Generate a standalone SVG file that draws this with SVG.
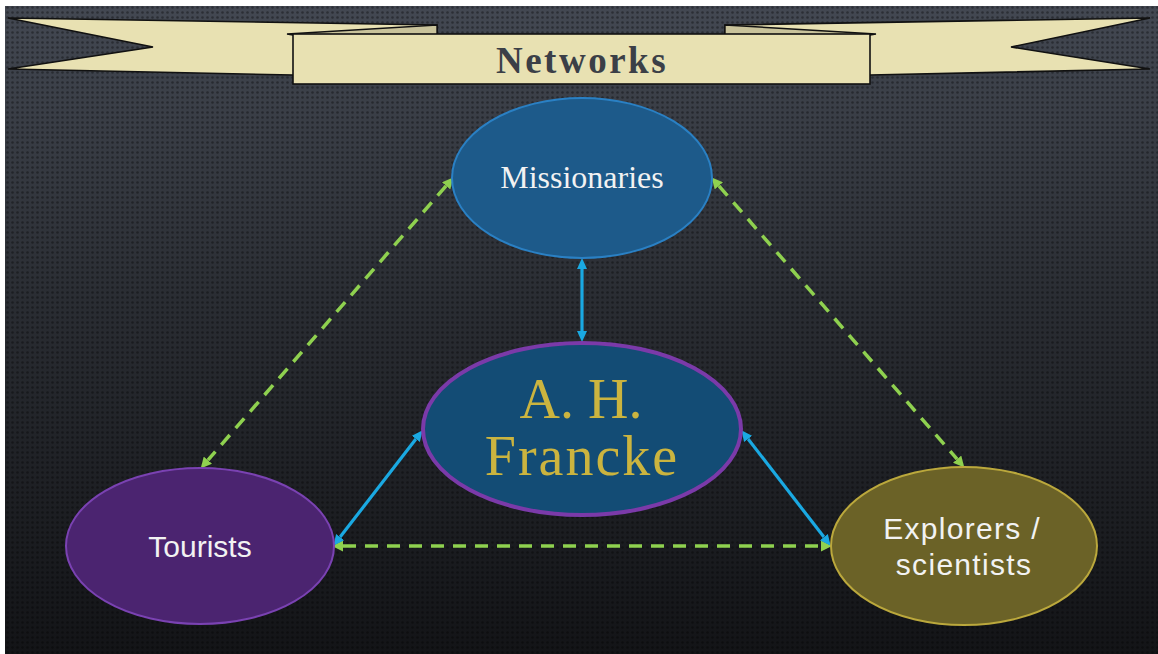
<svg xmlns="http://www.w3.org/2000/svg" width="1158" height="654" viewBox="0 0 1158 654">
  <defs>
    <linearGradient id="bg" x1="0" y1="0" x2="0" y2="1">
      <stop offset="0" stop-color="#434852"/>
      <stop offset="0.45" stop-color="#2a2d33"/>
      <stop offset="1" stop-color="#131417"/>
    </linearGradient>
    <pattern id="dots" width="5" height="5" patternUnits="userSpaceOnUse">
      <circle cx="2.5" cy="2.5" r="1.3" fill="#000" fill-opacity="0.35"/>
    </pattern>
    <marker id="blueHead" viewBox="0 -6 12 12" refX="0" refY="0" markerWidth="12" markerHeight="12" markerUnits="userSpaceOnUse" orient="auto-start-reverse">
      <path d="M0,-5 L11,0 L0,5 z" fill="#1aa9e2"/>
    </marker>
    <marker id="greenHead" viewBox="0 -5 10 10" refX="0" refY="0" markerWidth="11" markerHeight="11" markerUnits="userSpaceOnUse" orient="auto-start-reverse">
      <path d="M0,-5 L10,0 L0,5 z" fill="#8fd14f"/>
    </marker>
    <style>
      .ribbon { fill: #e8e1b2; stroke: #111; stroke-width: 1.6; stroke-linejoin: miter; }
      .fold { fill: #c9c39b; stroke: #111; stroke-width: 1.4; }
      .blue { stroke: #1aa9e2; stroke-width: 3.2; fill: none; marker-start: url(#blueHead); marker-end: url(#blueHead); }
      .green { stroke: #8fd14f; stroke-width: 3.5; fill: none; stroke-dasharray: 13 9; marker-start: url(#greenHead); marker-end: url(#greenHead); }
      .serif { font-family: "Liberation Serif", "Times New Roman", serif; }
      .sans { font-family: "Liberation Sans", Arial, sans-serif; }
    </style>
  </defs>

  <rect x="0" y="0" width="1158" height="654" fill="#ffffff"/>
  <rect x="5" y="6" width="1153" height="648" fill="url(#bg)"/>
  <rect x="5" y="6" width="1153" height="648" fill="url(#dots)"/>

  <g id="banner">
    <polygon class="ribbon" points="8,18 437,25 437,80 293,75 8,69 153,47"/>
    <polygon class="ribbon" points="1150,18 725,25 725,80 870,75 1150,69 1011,47"/>
    <polygon class="fold" points="287,34 437,25 437,35 293,35"/>
    <polygon class="fold" points="876,34 725,25 725,35 870,35"/>
    <rect class="ribbon" x="293" y="34" width="577" height="50"/>
    <text class="serif" x="582" y="73" text-anchor="middle" font-size="37" font-weight="bold" letter-spacing="2.5" fill="#3b3f47">Networks</text>
  </g>

  <g id="connectors">
    <line class="green" x1="446.1" y1="185.8" x2="207.9" y2="460.2"/>
    <line class="green" x1="718.9" y1="185.8" x2="957.1" y2="459.2"/>
    <line class="green" x1="343" y1="546" x2="821" y2="546"/>
    <line class="blue" x1="582" y1="269" x2="582" y2="331"/>
    <line class="blue" x1="415.9" y1="438.9" x2="340.1" y2="537.1"/>
    <line class="blue" x1="748.1" y1="438.9" x2="823.9" y2="537.1"/>
  </g>

  <g id="missionaries">
    <ellipse cx="582" cy="178" rx="130" ry="80" fill="#1d5a8a" stroke="#2a80c4" stroke-width="2"/>
    <text class="serif" x="582" y="188" text-anchor="middle" font-size="32" fill="#f2f2f2">Missionaries</text>
  </g>

  <g id="francke">
    <ellipse cx="582" cy="429" rx="159" ry="86" fill="#134c75" stroke="#7b3aa9" stroke-width="4"/>
    <text class="serif" x="581" y="418" text-anchor="middle" font-size="56" fill="#cbb43f">A. H.</text>
    <text class="serif" x="582" y="475" text-anchor="middle" font-size="56" letter-spacing="2" fill="#cbb43f">Francke</text>
  </g>

  <g id="tourists">
    <ellipse cx="200" cy="546" rx="134" ry="78" fill="#4b2470" stroke="#7a42b2" stroke-width="2"/>
    <text class="sans" x="200" y="557" text-anchor="middle" font-size="30" fill="#f2f2f2">Tourists</text>
  </g>

  <g id="explorers">
    <ellipse cx="964" cy="546" rx="133" ry="79" fill="#6b6227" stroke="#bba83c" stroke-width="2"/>
    <text class="sans" x="962" y="539" text-anchor="middle" font-size="30" letter-spacing="1.3" fill="#f2f2f2">Explorers /</text>
    <text class="sans" x="964" y="575" text-anchor="middle" font-size="30" letter-spacing="1.3" fill="#f2f2f2">scientists</text>
  </g>
</svg>
